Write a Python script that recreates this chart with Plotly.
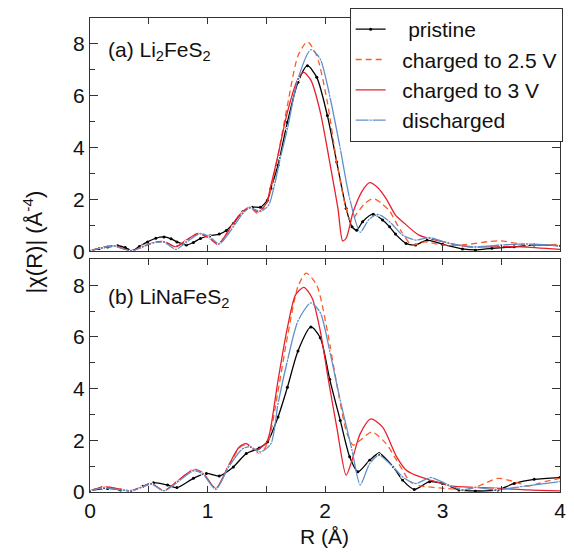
import plotly.graph_objects as go

# ---------------- data: panel (a) Li2FeS2 ----------------
a_pristine_R = [0.0, 0.08, 0.15, 0.235, 0.30, 0.36, 0.42, 0.49, 0.56, 0.63, 0.69, 0.74, 0.82, 0.88, 0.94, 1.02, 1.10, 1.16, 1.22, 1.30, 1.38, 1.45, 1.51, 1.54, 1.60, 1.68, 1.77, 1.85, 1.93, 2.02, 2.10, 2.18, 2.23, 2.27, 2.32, 2.41, 2.49, 2.55, 2.60, 2.69, 2.77, 2.87, 3.0, 3.17, 3.28, 3.42, 3.61, 3.78, 4.0]
a_pristine_v = [0.02, 0.10, 0.16, 0.21, 0.14, 0.02, 0.18, 0.36, 0.50, 0.55, 0.48, 0.36, 0.24, 0.34, 0.49, 0.60, 0.66, 0.80, 1.07, 1.52, 1.70, 1.70, 1.97, 2.42, 3.32, 4.98, 6.52, 7.16, 6.71, 5.24, 3.44, 1.65, 0.94, 0.81, 1.14, 1.43, 1.20, 0.94, 0.66, 0.30, 0.24, 0.43, 0.27, 0.09, 0.05, 0.11, 0.17, 0.24, 0.21]

a_c25_R = [0.0, 0.1, 0.21, 0.35, 0.45, 0.54, 0.63, 0.73, 0.82, 0.92, 1.02, 1.09, 1.19, 1.27, 1.36, 1.43, 1.50, 1.55, 1.60, 1.68, 1.77, 1.85, 1.93, 2.02, 2.10, 2.17, 2.22, 2.27, 2.34, 2.41, 2.48, 2.55, 2.62, 2.68, 2.74, 2.85, 3.0, 3.17, 3.39, 3.5, 3.72, 4.0]
a_c25_v = [0.02, 0.14, 0.20, 0.01, 0.18, 0.33, 0.37, 0.19, 0.42, 0.67, 0.50, 0.28, 0.85, 1.35, 1.68, 1.45, 1.80, 2.60, 3.70, 5.62, 7.54, 8.08, 7.54, 5.75, 3.44, 1.83, 1.15, 1.45, 1.85, 2.03, 1.85, 1.55, 0.98, 0.55, 0.23, 0.36, 0.24, 0.24, 0.37, 0.40, 0.24, 0.27]

a_c3_R = [0.0, 0.1, 0.21, 0.35, 0.45, 0.54, 0.63, 0.73, 0.82, 0.92, 1.02, 1.09, 1.19, 1.27, 1.36, 1.43, 1.50, 1.54, 1.60, 1.68, 1.77, 1.82, 1.88, 1.96, 2.04, 2.11, 2.15, 2.18, 2.24, 2.32, 2.38, 2.45, 2.52, 2.60, 2.66, 2.80, 3.0, 3.22, 3.44, 3.67, 4.0]
a_c3_v = [0.02, 0.14, 0.21, 0.01, 0.18, 0.33, 0.37, 0.17, 0.43, 0.69, 0.49, 0.26, 0.88, 1.39, 1.71, 1.52, 1.84, 2.55, 3.70, 5.37, 6.65, 6.90, 6.60, 5.37, 3.44, 1.65, 0.40, 0.50, 1.52, 2.35, 2.65, 2.45, 2.03, 1.39, 1.14, 0.62, 0.37, 0.17, 0.17, 0.17, 0.07]

a_dis_R = [0.0, 0.1, 0.21, 0.35, 0.45, 0.54, 0.63, 0.73, 0.82, 0.94, 1.02, 1.10, 1.22, 1.30, 1.36, 1.45, 1.52, 1.57, 1.62, 1.68, 1.77, 1.88, 1.96, 2.04, 2.13, 2.21, 2.30, 2.37, 2.45, 2.55, 2.66, 2.77, 2.89, 3.05, 3.28, 3.5, 3.72, 4.0]
a_dis_v = [0.02, 0.13, 0.19, 0.01, 0.17, 0.32, 0.35, 0.07, 0.35, 0.69, 0.55, 0.28, 0.94, 1.45, 1.68, 1.54, 1.77, 2.55, 3.60, 4.72, 6.65, 7.78, 7.41, 6.00, 3.96, 2.03, 0.73, 1.20, 1.42, 1.14, 0.62, 0.43, 0.52, 0.31, 0.17, 0.24, 0.28, 0.20]

# ---------------- data: panel (b) LiNaFeS2 ----------------
b_pristine_R = [0.0, 0.15, 0.26, 0.35, 0.45, 0.54, 0.66, 0.74, 0.88, 0.99, 1.10, 1.22, 1.33, 1.44, 1.51, 1.60, 1.68, 1.77, 1.88, 1.96, 2.04, 2.13, 2.21, 2.28, 2.38, 2.46, 2.58, 2.66, 2.76, 2.89, 3.0, 3.14, 3.28, 3.47, 3.61, 3.78, 4.0]
b_pristine_v = [0.05, 0.14, 0.08, 0.05, 0.22, 0.36, 0.27, 0.17, 0.53, 0.72, 0.62, 0.97, 1.49, 1.70, 1.94, 2.90, 4.05, 5.46, 6.39, 5.97, 4.36, 2.77, 1.36, 0.78, 1.23, 1.49, 0.97, 0.46, 0.10, 0.40, 0.33, 0.08, 0.04, 0.08, 0.33, 0.49, 0.56]

b_c25_R = [0.0, 0.12, 0.29, 0.35, 0.43, 0.52, 0.63, 0.75, 0.88, 0.96, 1.07, 1.18, 1.27, 1.33, 1.45, 1.52, 1.60, 1.68, 1.77, 1.84, 1.93, 2.02, 2.10, 2.18, 2.24, 2.30, 2.40, 2.52, 2.60, 2.66, 2.72, 2.80, 3.02, 3.22, 3.36, 3.47, 3.61, 3.73, 3.87, 4.0]
b_c25_v = [0.05, 0.20, 0.08, 0.05, 0.18, 0.32, 0.06, 0.44, 0.84, 0.72, 0.15, 1.00, 1.70, 1.82, 1.49, 2.00, 3.90, 6.00, 7.95, 8.47, 8.00, 6.23, 4.18, 2.38, 1.81, 2.00, 2.32, 1.87, 1.30, 0.85, 0.42, 0.25, 0.14, 0.10, 0.33, 0.53, 0.40, 0.23, 0.40, 0.53]

b_c3_R = [0.0, 0.12, 0.29, 0.35, 0.43, 0.52, 0.63, 0.75, 0.88, 0.96, 1.07, 1.18, 1.27, 1.33, 1.41, 1.50, 1.53, 1.60, 1.68, 1.75, 1.82, 1.89, 1.96, 2.03, 2.10, 2.18, 2.23, 2.30, 2.39, 2.49, 2.61, 2.69, 2.77, 2.94, 3.08, 3.28, 3.50, 3.73, 4.0]
b_c3_v = [0.05, 0.21, 0.08, 0.05, 0.18, 0.33, 0.05, 0.45, 0.87, 0.74, 0.14, 1.04, 1.74, 1.87, 1.62, 1.90, 2.30, 4.31, 6.36, 7.64, 7.92, 7.51, 6.23, 4.31, 2.51, 0.65, 1.23, 2.26, 2.83, 2.51, 1.36, 0.85, 0.65, 0.40, 0.23, 0.18, 0.14, 0.08, 0.04]

b_dis_R = [0.0, 0.12, 0.29, 0.35, 0.43, 0.52, 0.63, 0.75, 0.88, 0.96, 1.07, 1.18, 1.30, 1.37, 1.45, 1.54, 1.60, 1.68, 1.77, 1.88, 1.96, 2.04, 2.13, 2.23, 2.30, 2.38, 2.46, 2.58, 2.66, 2.77, 2.90, 3.05, 3.17, 3.28, 3.45, 3.67, 4.0]
b_dis_v = [0.04, 0.16, 0.06, 0.04, 0.16, 0.31, 0.05, 0.40, 0.82, 0.70, 0.10, 0.97, 1.68, 1.74, 1.55, 1.87, 3.41, 5.08, 6.62, 7.32, 6.94, 5.46, 3.54, 1.62, 0.27, 1.10, 1.42, 0.97, 0.59, 0.33, 0.56, 0.27, 0.08, 0.18, 0.08, 0.21, 0.40]

NB = "\u00a0"
series_names = [NB * 3 + "pristine", NB * 2 + "charged to 2.5 V", NB * 2 + "charged to 3 V", NB * 2 + "discharged"]
x_ticks = [0, 1, 2, 3, 4]
y_ticks = [0, 2, 4, 6, 8]

# ---------------- styles ----------------
FONT = "Liberation Sans, Arial, sans-serif"
FS = 21
AX = "#333333"
BLACK = "#000000"
ORANGE = "#ff5a26"
RED = "#e8202e"
BLUE = "#6090c8"

fig = go.Figure()

def add_set(R0, v0, R1, v1, R2, v2, R3, v3, xa, ya, show):
    fig.add_trace(go.Scatter(x=R0, y=v0, name=series_names[0], mode="lines+markers",
                             line=dict(color=BLACK, width=1.3, shape="spline", smoothing=0.7),
                             marker=dict(size=3, color=BLACK),
                             xaxis=xa, yaxis=ya, showlegend=show))
    fig.add_trace(go.Scatter(x=R1, y=v1, name=series_names[1], mode="lines",
                             line=dict(color=ORANGE, width=1.3, dash="6px,4px", shape="spline", smoothing=0.7),
                             xaxis=xa, yaxis=ya, showlegend=show))
    fig.add_trace(go.Scatter(x=R2, y=v2, name=series_names[2], mode="lines",
                             line=dict(color=RED, width=1.3, shape="spline", smoothing=0.7),
                             xaxis=xa, yaxis=ya, showlegend=show))
    fig.add_trace(go.Scatter(x=R3, y=v3, name=series_names[3], mode="lines+markers",
                             line=dict(color=BLUE, width=1.3, shape="spline", smoothing=0.7),
                             marker=dict(size=3.5, color="white", symbol="circle-open", line=dict(color=BLUE, width=1)),
                             xaxis=xa, yaxis=ya, showlegend=show))

add_set(a_pristine_R, a_pristine_v, a_c25_R, a_c25_v, a_c3_R, a_c3_v, a_dis_R, a_dis_v, "x", "y", True)
add_set(b_pristine_R, b_pristine_v, b_c25_R, b_c25_v, b_c3_R, b_c3_v, b_dis_R, b_dis_v, "x2", "y2", False)

tickfont = dict(family=FONT, size=FS, color="#111")

def xax(anchor, labels):
    return dict(range=[0, 4], anchor=anchor, showline=True, linecolor=AX, linewidth=1, mirror="ticks",
                ticks="inside", ticklen=6, tickcolor=AX, tickvals=x_ticks, showticklabels=labels,
                tickfont=tickfont, showgrid=False, zeroline=False,
                minor=dict(dtick=0.5, tick0=0, ticks="inside", ticklen=6, tickcolor=AX, showgrid=False))

def yax(anchor, domain):
    return dict(range=[0, 9], anchor=anchor, domain=domain, showline=True, linecolor=AX, linewidth=1,
                mirror="ticks", ticks="inside", ticklen=8, tickcolor=AX, tickvals=y_ticks,
                tickfont=tickfont, showgrid=False, zeroline=False,
                minor=dict(dtick=1, tick0=0, ticks="inside", ticklen=5, tickcolor=AX, showgrid=False))

fig.update_layout(
    width=574, height=552,
    margin=dict(l=90, r=8, t=15, b=60),
    paper_bgcolor="white", plot_bgcolor="white",
    font=dict(family=FONT, size=FS, color="#111"),
    xaxis=xax("y", False),
    yaxis=yax("x", [0.508, 1.0]),
    xaxis2=xax("y2", True),
    yaxis2=yax("x2", [0.0, 0.4906]),
    showlegend=True,
    legend=dict(x=0.5525, y=1.021, xanchor="left", yanchor="top", bgcolor="white",
                bordercolor=AX, borderwidth=1, font=dict(family=FONT, size=FS, color="#111"),
                tracegroupgap=0, itemwidth=30),
    annotations=[
        dict(text="(a) Li<sub>2</sub>FeS<sub>2</sub>", xref="paper", yref="paper", x=0.0336, y=0.962,
             xanchor="left", yanchor="top", showarrow=False, font=dict(family=FONT, size=FS, color="#111")),
        dict(text="(b) LiNaFeS<sub>2</sub>", xref="paper", yref="paper", x=0.0336, y=0.440,
             xanchor="left", yanchor="top", showarrow=False, font=dict(family=FONT, size=FS, color="#111")),
        dict(text="|χ(R)| (Å<sup>-4</sup>)", xref="paper", yref="paper", x=-0.122, y=0.528,
             xanchor="center", yanchor="middle", textangle=-90, showarrow=False,
             font=dict(family=FONT, size=22, color="#111")),
        dict(text="R (Å)", xref="paper", yref="paper", x=0.498, y=-0.094,
             xanchor="center", yanchor="middle", showarrow=False,
             font=dict(family=FONT, size=FS, color="#111")),
    ],
)

fig.write_html("out.html", config={"displayModeBar": False},
               post_script="document.body.style.margin='0';document.body.style.overflow='hidden';")
